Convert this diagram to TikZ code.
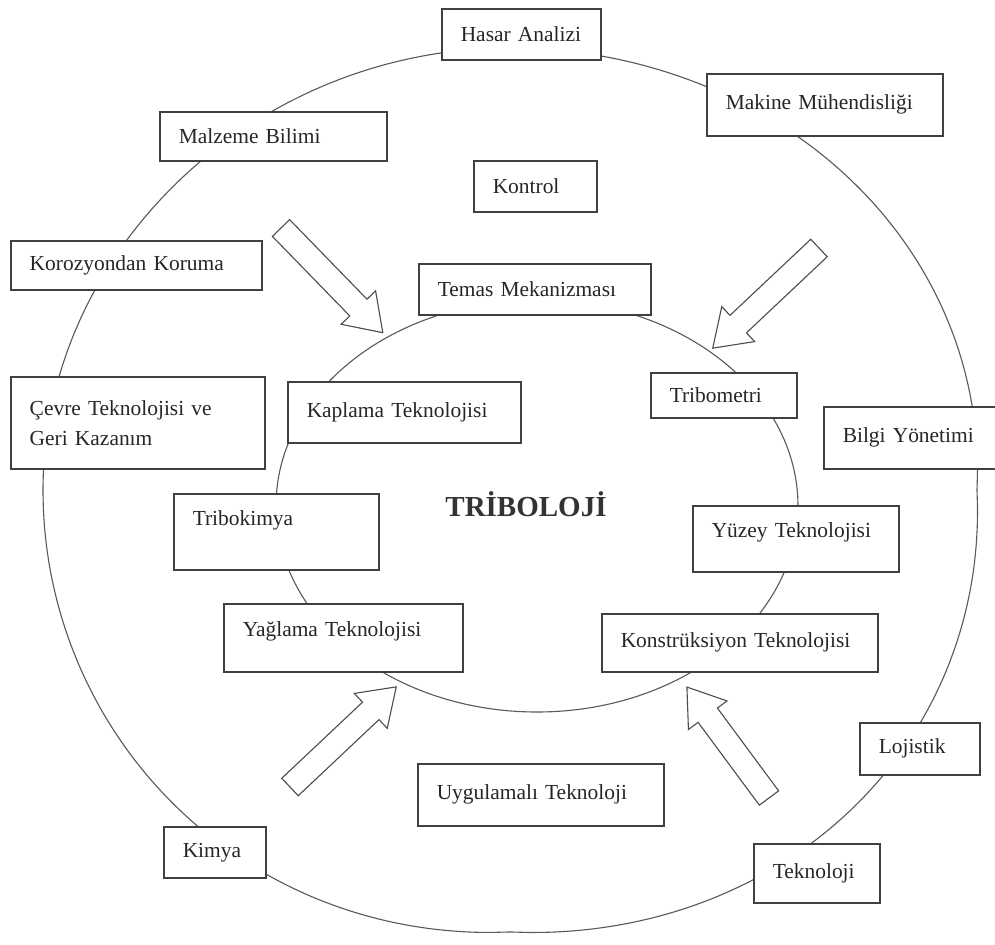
\documentclass[tikz,border=0pt]{standalone}
\usepackage{fontspec}
\setmainfont{Liberation Serif}
\begin{document}
\begin{tikzpicture}
    [ x=0.2mm, y=-0.2mm
    , ring/.style={draw=black!65, line width=0.22mm}
    , tbox/.style={draw=black!75, fill=white, line width=0.3mm, anchor=north west,
                   align=left, inner xsep=3.8mm, inner ysep=0mm,
                   font=\fontsize{12.2}{17}\selectfont, text=black!85}
    , title/.style={font=\fontsize{16.5}{20}\selectfont\bfseries, text=black!80}
    , arrowline/.style={draw=black!70, fill=white, line width=0.22mm, line join=miter}
    , blockarrow/.pic={\path[arrowline] (0,-12) -- (#1-35,-12) -- (#1-35,-24) -- (#1,0)
                          -- (#1-35,24) -- (#1-35,12) -- (0,12) -- cycle;}
    ]
    \fill[white] (0,0) rectangle (995,945);
    \useasboundingbox (0,0) rectangle (995,945);

    \draw[ring] plot[domain=0:360, samples=145, smooth cycle, variable=\t]
        ({510+467*cos(\t)*(1+abs(sin(2*\t))*(0.012+0.016*cos(\t-45)))},
         {490+442*sin(\t)*(1+abs(sin(2*\t))*(0.012+0.016*cos(\t-45)))});
    \draw[ring] (537,506) ellipse [x radius=261, y radius=206];

    \pic[rotate=-45.8] at (281,228) {blockarrow=146};
    \pic[rotate=-136.7] at (819,248) {blockarrow=146};
    \pic[rotate=43.3] at (290,787) {blockarrow=146};
    \pic[rotate=126.5] at (769,798) {blockarrow=138};

    \node[title] (tribo) at (526,504) {TRİBOLOJİ};

    \node[tbox, text width=24.2mm, minimum height=10.2mm] (hasar) at (441,8) {Hasar Analizi};
    \node[tbox, text width=39.6mm, minimum height=12.4mm] (makine) at (706,73) {Makine Mühendisliği};
    \node[tbox, text width=37.8mm, minimum height=9.8mm] (malzeme) at (159,111) {Malzeme Bilimi};
    \node[tbox, text width=17.0mm, minimum height=10.2mm] (kontrol) at (473,160) {Kontrol};
    \node[tbox, text width=42.6mm, minimum height=9.8mm] (korozyon) at (10,240) {Korozyondan Koruma};
    \node[tbox, text width=38.8mm, minimum height=10.2mm] (temas) at (418,263) {Temas Mekanizması};
    \node[tbox, text width=43.2mm, minimum height=18.4mm] (cevre) at (10,376) {Çevre Teknolojisi ve\\Geri Kazanım};
    \node[tbox, text width=39.0mm, minimum height=12.2mm] (kaplama) at (287,381) {Kaplama Teknolojisi};
    \node[tbox, text width=21.6mm, minimum height=9.0mm] (tribometri) at (650,372) {Tribometri};
    \node[tbox, text width=27.4mm, minimum height=12.4mm] (bilgi) at (823,406) {Bilgi Yönetimi};
    \node[tbox, text width=33.4mm, minimum height=15.2mm, text depth=5.4mm] (tribokimya) at (173,493) {Tribokimya};
    \node[tbox, text width=33.6mm, minimum height=13.2mm, text depth=3.4mm] (yuzey) at (692,505) {Yüzey Teknolojisi};
    \node[tbox, text width=40.2mm, minimum height=13.6mm, text depth=3.4mm] (yaglama) at (223,603) {Yağlama Teknolojisi};
    \node[tbox, text width=47.6mm, minimum height=11.6mm] (konstruksiyon) at (601,613) {Konstrüksiyon Teknolojisi};
    \node[tbox, text width=16.4mm, minimum height=10.4mm] (lojistik) at (859,722) {Lojistik};
    \node[tbox, text width=41.6mm, minimum height=12.4mm] (uygulamali) at (417,763) {Uygulamalı Teknoloji};
    \node[tbox, text width=12.8mm, minimum height=10.2mm] (kimya) at (163,826) {Kimya};
    \node[tbox, text width=17.6mm, minimum height=11.8mm] (teknoloji) at (753,843) {Teknoloji};
  \end{tikzpicture}
\end{document}
